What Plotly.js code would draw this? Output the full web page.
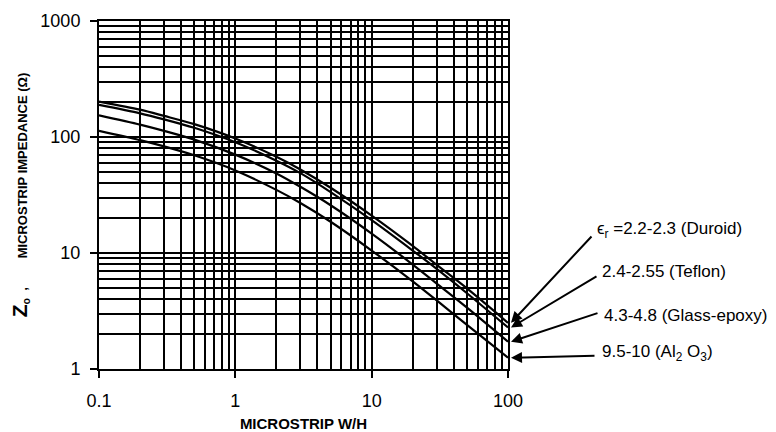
<!DOCTYPE html>
<html>
<head>
<meta charset="utf-8">
<script src="https://cdn.plot.ly/plotly-3.0.1.min.js"></script>
<style>html,body{margin:0;padding:0;background:#fff;}#chart{width:776px;height:432px;}</style>
</head>
<body>
<div id="chart"></div>
<script>
// W/H values where the curves were read
var widthRatio = [0.1, 0.2, 0.3, 0.5, 1, 2, 3, 5, 10, 20, 30, 50, 100];
// Z0 (ohms)
var z0Duroid = [202, 172, 152, 129, 97, 67.5, 52.5, 36.5, 21, 11.5, 7.9, 4.95, 2.5];
var z0Teflon = [189, 160, 142, 120, 90, 62.5, 48.8, 33.5, 19.2, 10.5, 7.3, 4.5, 2.28];
var z0Glass  = [154, 128, 113, 95, 70.5, 48.5, 37.2, 25.8, 14.7, 7.95, 5.45, 3.38, 1.72];
var z0Alumina = [113, 94, 83, 69.5, 51.5, 35, 27, 18.6, 10.5, 5.7, 3.9, 2.4, 1.25];

var seriesValues = [z0Duroid, z0Teflon, z0Glass, z0Alumina];
var seriesLabels = [
  "\u03F5<sub>r</sub> =2.2-2.3 (Duroid)",
  "2.4-2.55 (Teflon)",
  "4.3-4.8 (Glass-epoxy)",
  "9.5-10 (Al<sub>2</sub> O<sub>3</sub>)"
];

var xMajorTicks = [0.1, 1, 10, 100];
var xMajorText = ["0.1", "1", "10", "100"];
var yMajorTicks = [1, 10, 100, 1000];
var yMajorText = ["1", "10", "100", "1000"];

function minorVals(decades) {
  var out = [];
  decades.forEach(function (d) {
    for (var k = 2; k <= 9; k++) out.push(d * k);
  });
  return out;
}
var xMinor = minorVals([0.1, 1, 10]);
var yMinor = minorVals([1, 10, 100]);

var traces = seriesValues.map(function (vals) {
  return {
    x: widthRatio, y: vals, type: "scatter", mode: "lines",
    line: {color: "#000", width: 2.2, shape: "spline", smoothing: 0.8},
    showlegend: false, hoverinfo: "skip"
  };
});

// arrow tail offsets (px) and label positions (paper)
var arrowOffsets = [[82, -88], [87, -52], [88, -29], [85, -2]];
var labelPos = [[1.2127, 0.399], [1.225, 0.2816], [1.2298, 0.1523], [1.225, 0.046]];

var annotations = [];
seriesValues.forEach(function (vals, i) {
  annotations.push({
    xref: "x", yref: "y",
    x: Math.log10(widthRatio[widthRatio.length - 1]),
    y: Math.log10(vals[vals.length - 1]),
    xshift: 3,
    text: " ", font: {size: 1},
    showarrow: true, arrowhead: 2, arrowsize: 1.1, arrowwidth: 2, arrowcolor: "#000",
    ax: arrowOffsets[i][0], ay: arrowOffsets[i][1]
  });
  annotations.push({
    xref: "paper", yref: "paper",
    x: labelPos[i][0], y: labelPos[i][1],
    xanchor: "left", yanchor: "middle",
    text: seriesLabels[i], showarrow: false,
    font: {family: "Liberation Sans, Arial, sans-serif", size: 17, color: "#000"}
  });
});

var layout = {
  width: 776, height: 432,
  margin: {l: 99, r: 268, t: 21, b: 63},
  paper_bgcolor: "#fff", plot_bgcolor: "#fff",
  font: {family: "Liberation Sans, Arial, sans-serif", color: "#000"},
  xaxis: {
    type: "log", range: [-1, 2],
    tickmode: "array", tickvals: xMajorTicks, ticktext: xMajorText,
    ticks: "outside", ticklen: 7, tickwidth: 2, tickcolor: "#000",
    ticklabelstandoff: 7,
    tickfont: {size: 18, color: "#000"},
    showgrid: true, gridcolor: "#000", gridwidth: 2,
    minor: {tickmode: "array", tickvals: xMinor, showgrid: true, gridcolor: "#000", gridwidth: 2, ticks: ""},
    showline: true, linecolor: "#000", linewidth: 2, mirror: true,
    zeroline: false,
    title: {text: "MICROSTRIP W/H", font: {size: 15, color: "#000", family: "Liberation Sans, Arial, sans-serif", weight: "bold"}, standoff: 12}
  },
  yaxis: {
    type: "log", range: [0, 3],
    tickmode: "array", tickvals: yMajorTicks, ticktext: yMajorText,
    ticks: "outside", ticklen: 7, tickwidth: 2, tickcolor: "#000",
    ticklabelstandoff: 6,
    tickfont: {size: 18, color: "#000"},
    showgrid: true, gridcolor: "#000", gridwidth: 2,
    minor: {tickmode: "array", tickvals: yMinor, showgrid: true, gridcolor: "#000", gridwidth: 2, ticks: ""},
    showline: true, linecolor: "#000", linewidth: 2, mirror: true,
    zeroline: false,
    title: {text: "<span style='font-size:21px'>Z</span><span style='font-size:15px'><sub>o</sub></span>\u00a0\u00a0,\u00a0\u00a0\u00a0\u00a0\u00a0\u00a0\u00a0\u00a0MICROSTRIP IMPEDANCE (\u03A9)", font: {size: 13, color: "#000", family: "Liberation Sans, Arial, sans-serif", weight: "bold"}, standoff: 10}
  },
  annotations: annotations
};

Plotly.newPlot("chart", traces, layout, {staticPlot: true, displayModeBar: false});
</script>
</body>
</html>
